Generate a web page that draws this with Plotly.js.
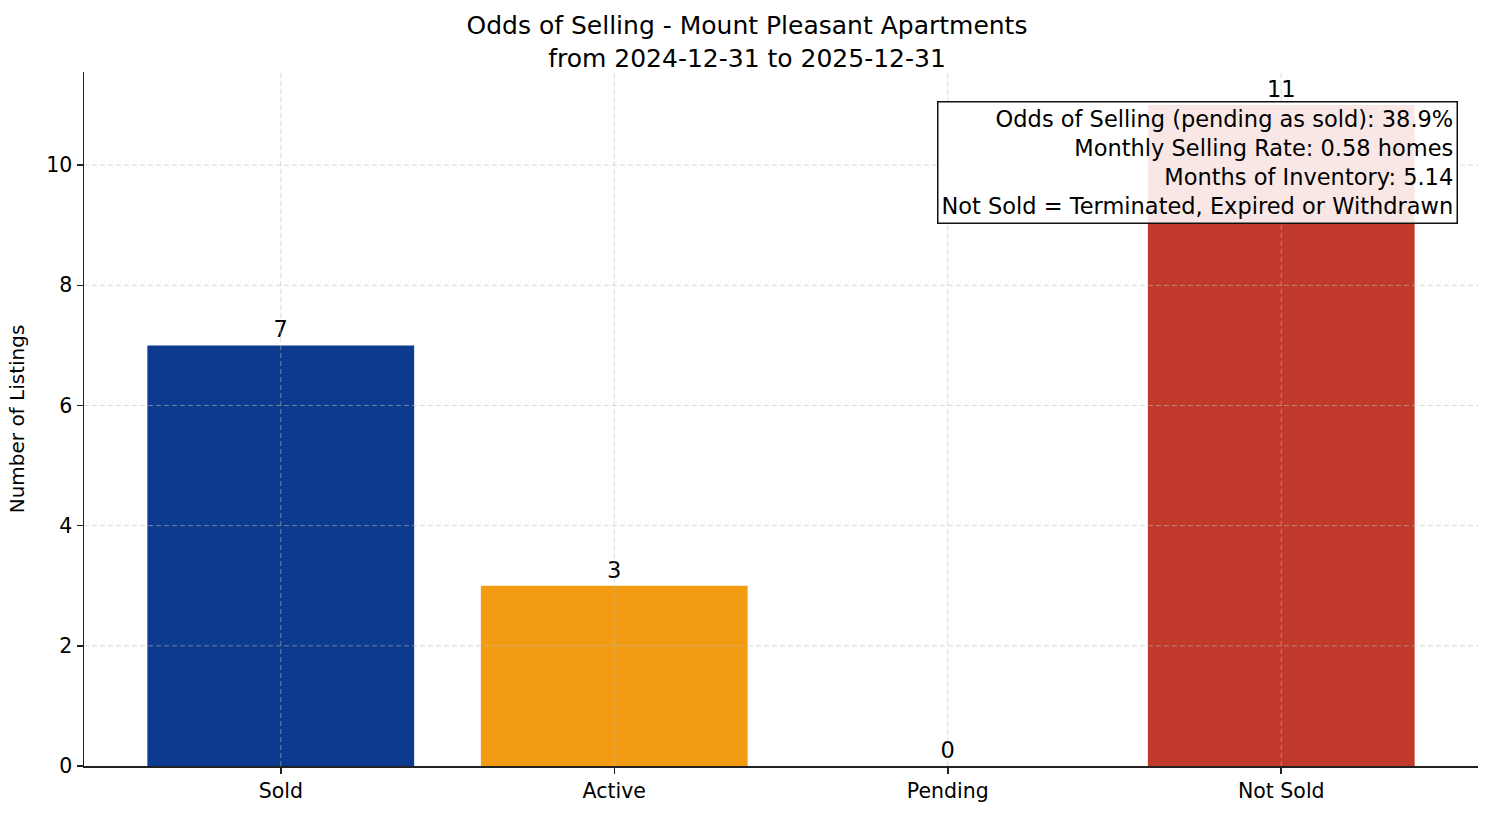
<!DOCTYPE html>
<html>
<head>
<meta charset="utf-8">
<script src="https://cdn.plot.ly/plotly-3.0.1.min.js"></script>
<style>
  html, body { margin: 0; padding: 0; background: #fff; }
  #graph { width: 1494px; height: 816px; }
</style>
</head>
<body>
<div id="graph"></div>
<script>
// chart data
var categories = ["Sold", "Active", "Pending", "Not Sold"]
var counts = [7, 3, 0, 11]
var barColors = ["#0b3a8e", "#f39c12", "#2ecc71", "#c0392b"]
var yTicks = [0, 2, 4, 6, 8, 10]

var statLines = [
    "Odds of Selling (pending as sold): 38.9%",
    "Monthly Selling Rate: 0.58 homes",
    "Months of Inventory: 5.14",
    "Not Sold = Terminated, Expired or Withdrawn"
]

var fontFam = "DejaVu Sans, sans-serif"
var xPos = categories.map(function(c, i){ return i })

var trace1 = {
    x: xPos,
    y: counts,
    type: "bar",
    width: 0.8,
    marker: {color: barColors, line: {width: 0}},
    text: counts.map(String),
    textposition: "outside",
    textfont: {family: fontFam, size: 22.5, color: "#000"},
    cliponaxis: false,
    hoverinfo: "x+y"
}

// grid drawn above the bars, like the matplotlib original
var gridStyle = {color: "rgba(190,190,190,0.55)", width: 1, dash: "5px,3px"}
var shapes = []
xPos.forEach(function(v){
    shapes.push({type: "line", xref: "x", yref: "paper", x0: v, x1: v, y0: 0, y1: 1, line: gridStyle, layer: "above"})
})
yTicks.forEach(function(v){
    if (v === 0) return
    shapes.push({type: "line", xref: "paper", yref: "y", x0: 0, x1: 1, y0: v, y1: v, line: gridStyle, layer: "above"})
})

var axisCommon = {
    tickfont: {family: fontFam, size: 20.5, color: "#000"},
    showline: true,
    linecolor: "#222",
    linewidth: 1.5,
    ticks: "outside",
    ticklen: 6,
    tickwidth: 1.5,
    tickcolor: "#222",
    showgrid: false,
    zeroline: false,
    fixedrange: true
}

var layout = {
    width: 1494,
    height: 816,
    margin: {l: 84, r: 16, t: 72, b: 50},
    paper_bgcolor: "#fff",
    plot_bgcolor: "#fff",
    font: {family: fontFam, color: "#000"},
    showlegend: false,
    title: {
        text: "Odds of Selling - Mount Pleasant Apartments<br>from 2024-12-31 to 2025-12-31",
        font: {family: fontFam, size: 25, color: "#000"},
        x: 0.5,
        xanchor: "center",
        yref: "container",
        y: 0.958,
        yanchor: "top"
    },
    xaxis: Object.assign({}, axisCommon, {
        range: [-0.59, 3.59],
        tickmode: "array",
        tickvals: xPos,
        ticktext: categories
    }),
    yaxis: Object.assign({}, axisCommon, {
        range: [0, 11.55],
        tickmode: "array",
        tickvals: yTicks,
        title: {text: "Number of Listings", font: {family: fontFam, size: 20, color: "#000"}, standoff: 16}
    }),
    shapes: shapes,
    annotations: [{
        xref: "paper",
        yref: "paper",
        x: 0.9857,
        y: 0.958,
        xanchor: "right",
        yanchor: "top",
        align: "right",
        showarrow: false,
        text: statLines.join("<br>"),
        font: {family: fontFam, size: 22.5, color: "#000"},
        bgcolor: "rgba(255,255,255,0.88)",
        bordercolor: "#111",
        borderwidth: 1.5,
        borderpad: 3
    }]
}

Plotly.newPlot("graph", [trace1], layout, {displayModeBar: false, staticPlot: true})
</script>
</body>
</html>
